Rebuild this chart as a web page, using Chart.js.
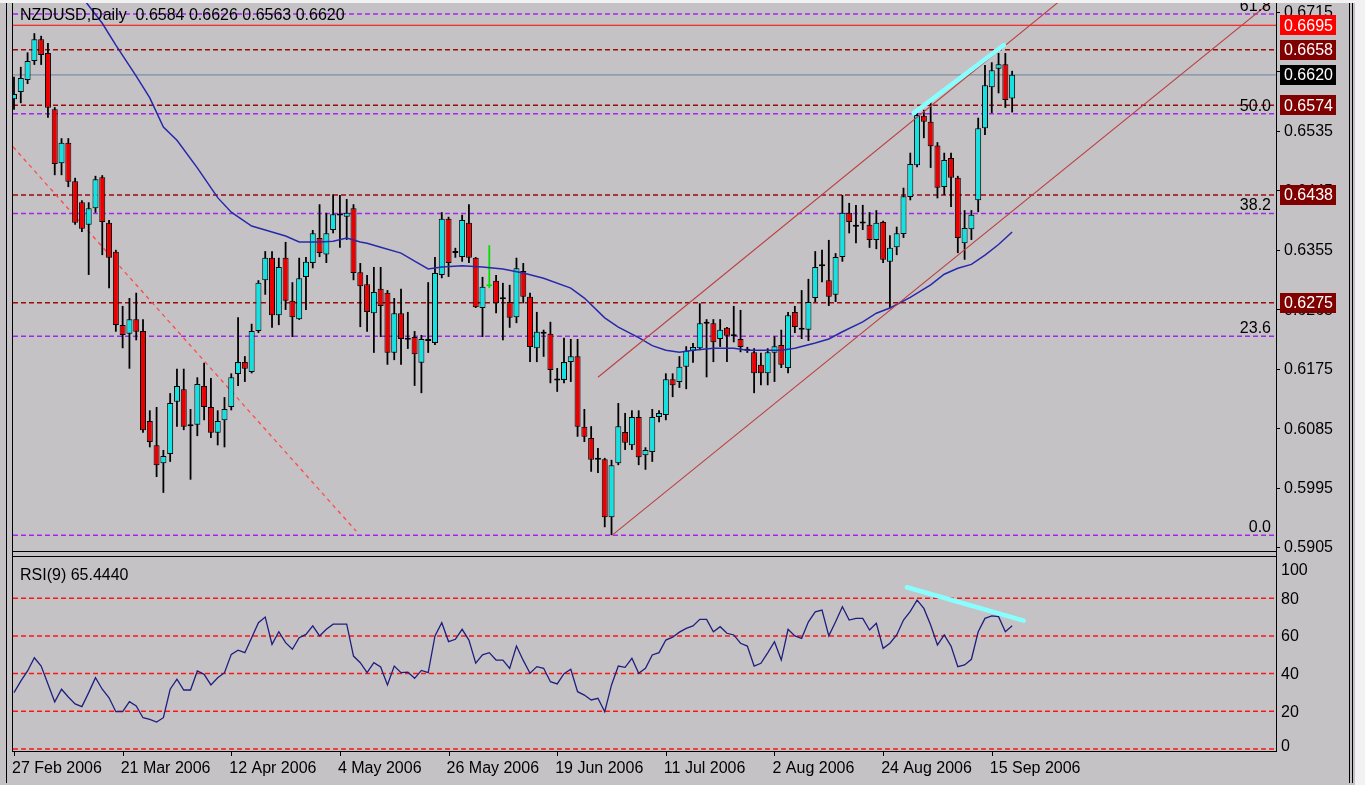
<!DOCTYPE html>
<html>
<head>
<meta charset="utf-8">
<title>NZDUSD Daily</title>
<script src="https://cdn.jsdelivr.net/npm/chart.js@4.4.1/dist/chart.umd.min.js"></script>
<style>
  html, body { margin:0; padding:0; background:#c5c2c6; }
  #wrap { position:relative; width:1365px; height:785px; overflow:hidden; background:#c5c2c6; }
  canvas { position:absolute; left:0; }
  #cMain { top:0; }
  #cRsi { top:553px; }
  .ln { position:absolute; background:#000; }
</style>
</head>
<body>
<div id="wrap">
  <canvas id="cMain" width="1365" height="553"></canvas>
  <canvas id="cRsi" width="1365" height="232"></canvas>
  <div class="ln" style="left:0;top:0;width:1365px;height:3px;background:#f2f2f2"></div>
  <div class="ln" style="left:6px;top:3px;width:1px;height:780px"></div>
  <div class="ln" style="left:12px;top:3px;width:1px;height:749px"></div>
  <div class="ln" style="left:1276px;top:3px;width:1px;height:749px"></div>
  <div class="ln" style="left:12px;top:551px;width:1265px;height:1px"></div>
  <div class="ln" style="left:12px;top:556px;width:1265px;height:1px"></div>
  <div class="ln" style="left:12px;top:751px;width:1265px;height:1px"></div>
  <div class="ln" style="left:1349px;top:3px;width:1px;height:780px"></div>
  <div class="ln" style="left:1352px;top:3px;width:1px;height:780px"></div>
  <div class="ln" style="left:1355px;top:0;width:10px;height:785px;background:#f2f2f2"></div>
</div>
<script>
// ---------------- data ----------------
const symbol = 'NZDUSD,Daily';
const rsiLabel = 'RSI(9) 65.4440';
const dateLabels = ['27 Feb 2006','21 Mar 2006','12 Apr 2006','4 May 2006','26 May 2006','19 Jun 2006','11 Jul 2006','2 Aug 2006','24 Aug 2006','15 Sep 2006'];
const dateIdx = [0,16,32,48,64,80,96,112,128,144];

const open = [0.6583,0.6594,0.6612,0.6641,0.6674,0.6653,0.6568,0.6486,0.6517,0.6459,
0.6427,0.6393,0.6418,0.6465,0.6396,0.6352,0.6241,0.6228,0.6250,0.6232,
0.6096,0.6059,0.6032,0.6046,0.6125,0.6144,0.6090,0.6090,0.6149,0.6117,
0.6078,0.6097,0.6117,0.6167,0.6185,0.6170,0.6232,0.6309,0.6343,0.6256,
0.6343,0.6278,0.6250,0.6314,0.6335,0.6373,0.6348,0.6385,0.6409,0.6405,
0.6418,0.6321,0.6303,0.6259,0.6296,0.6290,0.6199,0.6259,0.6220,0.6223,
0.6184,0.6217,0.6214,0.6317,0.6402,0.6350,0.6344,0.6396,0.6343,0.6267,
0.6302,0.6308,0.6281,0.6276,0.6253,0.6323,0.6284,0.6206,0.6228,0.6228,
0.6158,0.6158,0.6185,0.6194,0.6087,0.6070,0.6038,0.6038,0.5950,0.6032,
0.6079,0.6059,0.6102,0.6044,0.6049,0.6102,0.6105,0.6159,0.6155,0.6178,
0.6202,0.6206,0.6244,0.6244,0.6220,0.6237,0.6225,0.6220,0.6203,0.6200,
0.6181,0.6168,0.6199,0.6211,0.6176,0.6261,0.6235,0.6234,0.6282,0.6331,
0.6309,0.6287,0.6344,0.6411,0.6391,0.6396,0.6393,0.6370,0.6397,0.6337,
0.6359,0.6379,0.6435,0.6483,0.6558,0.6549,0.6513,0.6450,0.6494,0.6464,
0.6365,0.6386,0.6430,0.6539,0.6601,0.6629,0.6636,0.6584];
const high = [0.6617,0.6632,0.6654,0.6683,0.6679,0.6668,0.6571,0.6524,0.6524,0.6464,
0.6430,0.6427,0.6467,0.6468,0.6400,0.6355,0.6270,0.6282,0.6290,0.6250,
0.6112,0.6117,0.6052,0.6138,0.6175,0.6175,0.6114,0.6162,0.6184,0.6161,
0.6112,0.6132,0.6168,0.6253,0.6194,0.6243,0.6309,0.6353,0.6353,0.6343,
0.6367,0.6306,0.6343,0.6344,0.6385,0.6424,0.6411,0.6439,0.6438,0.6432,
0.6424,0.6335,0.6317,0.6329,0.6329,0.6294,0.6282,0.6296,0.6261,0.6232,
0.6226,0.6306,0.6344,0.6412,0.6405,0.6358,0.6408,0.6424,0.6344,0.6314,
0.6362,0.6317,0.6305,0.6302,0.6343,0.6335,0.6290,0.6261,0.6234,0.6246,
0.6176,0.6222,0.6220,0.6220,0.6114,0.6088,0.6055,0.6040,0.6037,0.6123,
0.6108,0.6112,0.6112,0.6056,0.6114,0.6112,0.6168,0.6168,0.6194,0.6209,
0.6214,0.6274,0.6250,0.6250,0.6250,0.6238,0.6270,0.6264,0.6208,0.6206,
0.6199,0.6206,0.6224,0.6234,0.6261,0.6270,0.6294,0.6311,0.6353,0.6355,
0.6370,0.6350,0.6438,0.6426,0.6423,0.6423,0.6412,0.6415,0.6399,0.6377,
0.6390,0.6449,0.6502,0.6567,0.6567,0.6579,0.6518,0.6502,0.6502,0.6467,
0.6415,0.6415,0.6555,0.6635,0.6639,0.6653,0.6653,0.6626];
const low = [0.6567,0.6577,0.6606,0.6635,0.6635,0.6555,0.6468,0.6468,0.6450,0.6393,
0.6382,0.6317,0.6411,0.6347,0.6297,0.6231,0.6206,0.6175,0.6218,0.6078,
0.6056,0.6011,0.5987,0.6034,0.6087,0.6082,0.6007,0.6073,0.6097,0.6070,
0.6059,0.6056,0.6112,0.6149,0.6155,0.6168,0.6229,0.6287,0.6237,0.6241,
0.6264,0.6223,0.6249,0.6264,0.6327,0.6344,0.6335,0.6380,0.6358,0.6370,
0.6309,0.6238,0.6231,0.6199,0.6223,0.6181,0.6188,0.6181,0.6205,0.6149,
0.6138,0.6199,0.6211,0.6312,0.6314,0.6343,0.6337,0.6335,0.6267,0.6223,
0.6297,0.6259,0.6218,0.6237,0.6244,0.6274,0.6185,0.6185,0.6193,0.6153,
0.6140,0.6153,0.6155,0.6072,0.6064,0.6019,0.6017,0.5935,0.5923,0.6029,
0.6052,0.6052,0.6029,0.6022,0.6034,0.6094,0.6097,0.6132,0.6146,0.6144,
0.6184,0.6203,0.6162,0.6185,0.6208,0.6185,0.6215,0.6200,0.6199,0.6138,
0.6150,0.6150,0.6155,0.6176,0.6168,0.6229,0.6220,0.6217,0.6276,0.6306,
0.6270,0.6276,0.6337,0.6380,0.6365,0.6385,0.6358,0.6356,0.6335,0.6267,
0.6347,0.6373,0.6430,0.6480,0.6524,0.6479,0.6433,0.6438,0.6420,0.6350,
0.6340,0.6370,0.6412,0.6529,0.6562,0.6592,0.6570,0.6563];
const close = [0.6591,0.6615,0.6641,0.6674,0.6650,0.6570,0.6485,0.6517,0.6458,0.6396,
0.6387,0.6418,0.6462,0.6397,0.6343,0.6241,0.6226,0.6250,0.6231,0.6082,
0.6064,0.6029,0.6043,0.6123,0.6149,0.6087,0.6088,0.6152,0.6117,0.6078,
0.6096,0.6114,0.6162,0.6185,0.6175,0.6232,0.6305,0.6343,0.6256,0.6329,
0.6278,0.6253,0.6312,0.6337,0.6380,0.6350,0.6380,0.6409,0.6407,0.6411,
0.6320,0.6300,0.6261,0.6291,0.6270,0.6199,0.6259,0.6220,0.6219,0.6197,
0.6220,0.6218,0.6320,0.6402,0.6335,0.6352,0.6400,0.6343,0.6268,0.6299,
0.6300,0.6274,0.6280,0.6252,0.6327,0.6284,0.6208,0.6231,0.6229,0.6173,
0.6157,0.6185,0.6194,0.6087,0.6072,0.6037,0.6037,0.5950,0.6029,0.6088,
0.6063,0.6102,0.6041,0.6052,0.6102,0.6108,0.6159,0.6150,0.6178,0.6202,
0.6208,0.6244,0.6243,0.6215,0.6234,0.6225,0.6224,0.6208,0.6202,0.6168,
0.6168,0.6200,0.6209,0.6181,0.6256,0.6238,0.6234,0.6276,0.6329,0.6330,
0.6284,0.6344,0.6411,0.6397,0.6390,0.6395,0.6370,0.6396,0.6340,0.6358,
0.6380,0.6436,0.6485,0.6559,0.6549,0.6512,0.6449,0.6491,0.6464,0.6373,
0.6388,0.6408,0.6539,0.6604,0.6627,0.6636,0.6582,0.6620];

const maIdx = [10,13,15,18,20,22,24,27,30,32,35,37,40,42,45,47,49,51,52,54,57,59,61,63,66,69,72,75,78,82,84,87,89,92,94,96,98,100,103,106,108,111,113,115,118,120,122,125,127,129,132,135,137,139,141,143,145,147];
const maVal = [0.6738,0.6698,0.6665,0.6618,0.6585,0.6541,0.6521,0.6479,0.6434,0.6412,0.6391,0.6385,0.6376,0.6367,0.6367,0.6368,0.6373,0.6367,0.6365,0.6359,0.6350,0.6338,0.6326,0.6329,0.6331,0.6329,0.6326,0.6320,0.6312,0.6297,0.6282,0.6252,0.6238,0.6222,0.6210,0.6203,0.6200,0.6203,0.6206,0.6206,0.6203,0.6203,0.6203,0.6206,0.6214,0.6220,0.6231,0.6246,0.6259,0.6267,0.6283,0.6302,0.6318,0.6327,0.6333,0.6347,0.6363,0.6382];

const rsi = [29.9,36,41.4,48.4,44,34.5,25,31.7,27.6,23.9,
22.5,29.9,37.8,31.7,27.2,19.8,19.8,25.1,22.8,16.6,
15.7,14.3,16.6,31.7,37,31.3,31.3,41.4,39.6,34,
37.8,40.5,50.2,52.4,51.1,59,67,70,55.5,62.2,
56.4,52.9,59,60.8,65.3,60,63.5,66.2,66.2,66.2,
49.3,45.8,40.5,45.8,43.5,34,44,40.5,40.8,37.5,
41.7,40.5,60,67,57,58.2,63.5,57.8,45.5,50,
51.1,47.2,47.2,42.8,54.6,47,40.2,43.7,42.8,35.7,
34.5,40,42.3,30.4,28.6,26,26.9,19.8,34,44,
43.3,48.1,40.2,42.8,49.9,51.1,57.8,59.3,62,64,
65.3,68.8,68.8,62.2,64.9,61.4,60.5,56.1,54.6,44,
45.5,51,56.9,47.2,63.5,60,58.7,67.5,72.8,73.7,
60,67.5,75.5,68.4,69.3,69.3,63.1,66.7,53.4,56.1,
60.5,68.4,73,79,74.6,65.8,55.2,60.5,54.6,43.7,
44.6,47.6,62.2,69.3,70.6,70.2,62.2,65.4];

const priceTicks = [0.5905,0.5995,0.6085,0.6175,0.6265,0.6355,0.6445,0.6535,0.6625,0.6715];
const rsiTicks = [100,80,60,40,20,0];
const rsiLevels = [80,60,40,20,0];
const priceLevels = [0.6695,0.6658,0.6620,0.6574,0.6438,0.6275];
const fibLevels = [0.5923,0.6224,0.6410,0.6561,0.6712];
const fibNames = ['0.0','23.6','38.2','50.0','61.8'];
const trendDownIdx = [-0.15, 50.4];
const trendDownVal = [0.6511, 0.5929];
const chanUpIdx = [86.0, 155];
const chanUpVal = [0.6162, 0.6740];
const chanLoIdx = [88.1, 186];
const chanLoVal = [0.5923, 0.6738];
const divPriceIdx = [132.5, 145.8];
const divPriceVal = [0.6562, 0.6665];
const divRsiIdx = [131.5, 148.7];
const divRsiVal = [85.8, 68.1];
const markerIdx = 70;

// ---------------- style ----------------
const X_MIN = -0.147, X_MAX = 185.86;
const Y_MIN = 0.5899, Y_MAX = 0.67287;
const R_MIN = -0.53, R_MAX = 101.86;
const FONT = '16px "Liberation Sans", Arial, sans-serif';
const BULL = '#12e2e2', BEAR = '#ea0000', MARK = '#00e000';
const levelLine = ['#ff0000','#9a0a0a','#7b8fa4','#9a0a0a','#9a0a0a','#9a0a0a'];
const levelDash = [[],[5,3],[],[5,3],[5,3],[5,3]];
const levelBox  = ['#ff0000','#800000','#000000','#800000','#800000','#800000'];
const FIB = '#a424f0';

function pts(xs, ys) { return xs.map((x, i) => ({x: x, y: ys[i]})); }
function hLine(v, color, dash, width, order) {
  return {type:'line', data: pts([X_MIN, X_MAX], [v, v]), borderColor: color, borderDash: dash,
          borderWidth: width, pointRadius: 0, fill: false, tension: 0, order: order, clip: 0};
}
function seg(xs, ys, color, width, dash, order, cap) {
  return {type:'line', data: pts(xs, ys), borderColor: color, borderDash: dash || [], borderWidth: width,
          borderCapStyle: cap || 'butt', pointRadius: 0, fill: false, tension: 0, order: order, clip: 0};
}

// ---------------- main chart ----------------
const mainSets = [];
fibLevels.forEach(v => mainSets.push(hLine(v, FIB, [5,3], 1.5, 20)));
priceLevels.forEach((v, i) => mainSets.push(hLine(v, levelLine[i], levelDash[i], levelDash[i].length ? 1.5 : 1.2, 19)));
mainSets.push(seg(trendDownIdx, trendDownVal, '#ff4a4a', 1.3, [4,4], 18));
mainSets.push({
  type:'bar', data: open.map((o, i) => ({x: i, y: [low[i], high[i]]})),
  backgroundColor: c => c.dataIndex === markerIdx ? MARK : '#000',
  borderWidth: 0, barThickness: 1.8, grouped: false, order: 6, clip: 0, inflateAmount: 0
});
mainSets.push({
  type:'bar', data: open.map((o, i) => ({x: i, y: [o, close[i]]})),
  backgroundColor: c => c.dataIndex === markerIdx ? MARK : (close[c.dataIndex] >= open[c.dataIndex] ? BULL : BEAR),
  borderColor: c => c.dataIndex === markerIdx ? MARK : '#000',
  borderWidth: 1, borderSkipped: false, barThickness: 6, minBarLength: 2,
  grouped: false, order: 5, clip: 0, inflateAmount: 0
});
mainSets.push(seg(maIdx, maVal, '#2828aa', 1.5, [], 3));
mainSets.push(seg(chanUpIdx, chanUpVal, '#bb4040', 1.1, [], 2));
mainSets.push(seg(chanLoIdx, chanLoVal, '#bb4040', 1.1, [], 2));
mainSets.push(seg(divPriceIdx, divPriceVal, '#88ffff', 4.5, [], 1, 'round'));

const mainDecor = {
  id: 'mainDecor',
  afterDraw(chart) {
    const {ctx, chartArea: ca, scales: {y}} = chart;
    ctx.save();
    ctx.font = FONT;
    ctx.textBaseline = 'middle';
    ctx.textAlign = 'left';
    ctx.fillStyle = '#000';
    priceTicks.forEach(v => {
      const py = y.getPixelForValue(v);
      ctx.fillRect(ca.right, Math.round(py), 4, 1);
      ctx.fillText(v.toFixed(4), ca.right + 8, py + 1);
    });
    priceLevels.forEach((v, i) => {
      const py = y.getPixelForValue(v);
      ctx.fillStyle = levelBox[i];
      ctx.fillRect(ca.right + 4, Math.round(py) - 10, 56, 20);
      ctx.fillStyle = '#fff';
      ctx.fillText(v.toFixed(4), ca.right + 8, py + 1);
    });
    ctx.fillStyle = '#000';
    ctx.textAlign = 'right';
    ctx.textBaseline = 'alphabetic';
    fibLevels.forEach((v, i) => ctx.fillText(fibNames[i], ca.right - 5, y.getPixelForValue(v) - 3));
    ctx.textAlign = 'left';
    ctx.textBaseline = 'middle';
    const n = close.length - 1;
    ctx.fillText(symbol + '  ' + [open[n], high[n], low[n], close[n]].map(v => v.toFixed(4)).join(' '), 20, 16);
    ctx.restore();
  }
};

new Chart(document.getElementById('cMain'), {
  type: 'line',
  data: { datasets: mainSets },
  options: {
    responsive: false, animation: false, events: [],
    layout: { padding: { left: 13, right: 89, top: 3, bottom: 2 } },
    scales: {
      x: { type: 'linear', min: X_MIN, max: X_MAX, offset: false, display: false, grid: { display: false } },
      y: { type: 'linear', min: Y_MIN, max: Y_MAX, beginAtZero: false, display: false, grid: { display: false } }
    },
    plugins: { legend: { display: false }, tooltip: { enabled: false }, title: { display: false } }
  },
  plugins: [mainDecor]
});

// ---------------- RSI chart ----------------
const rsiSets = [];
rsiLevels.forEach(v => rsiSets.push(hLine(v, '#ff1414', [5,3], 1.5, 10)));
rsiSets.push(seg(rsi.map((v, i) => i), rsi, '#1e1e7e', 1.3, [], 3));
rsiSets.push(seg(divRsiIdx, divRsiVal, '#88ffff', 4.5, [], 1, 'round'));

const rsiDecor = {
  id: 'rsiDecor',
  afterDraw(chart) {
    const {ctx, chartArea: ca, scales: {x, y}} = chart;
    ctx.save();
    ctx.font = FONT;
    ctx.fillStyle = '#000';
    ctx.textBaseline = 'middle';
    ctx.textAlign = 'left';
    rsiTicks.forEach(v => {
      let py = y.getPixelForValue(v);
      if (py < ca.top + 13) py = ca.top + 13;
      if (py > ca.bottom - 4) py = ca.bottom - 4;
      ctx.fillText(String(v), ca.right + 5, py + 1);
    });
    dateIdx.forEach((d, i) => {
      const px = x.getPixelForValue(d);
      ctx.fillRect(Math.round(px), ca.bottom + 1, 1, 5);
      ctx.fillText(dateLabels[i], px - 2, ca.bottom + 19);
    });
    ctx.fillText(rsiLabel, 20, ca.top + 19);
    ctx.restore();
  }
};

new Chart(document.getElementById('cRsi'), {
  type: 'line',
  data: { datasets: rsiSets },
  options: {
    responsive: false, animation: false, events: [],
    layout: { padding: { left: 13, right: 89, top: 4, bottom: 35 } },
    scales: {
      x: { type: 'linear', min: X_MIN, max: X_MAX, offset: false, display: false, grid: { display: false } },
      y: { type: 'linear', min: R_MIN, max: R_MAX, beginAtZero: false, display: false, grid: { display: false } }
    },
    plugins: { legend: { display: false }, tooltip: { enabled: false }, title: { display: false } }
  },
  plugins: [rsiDecor]
});
</script>
</body>
</html>
